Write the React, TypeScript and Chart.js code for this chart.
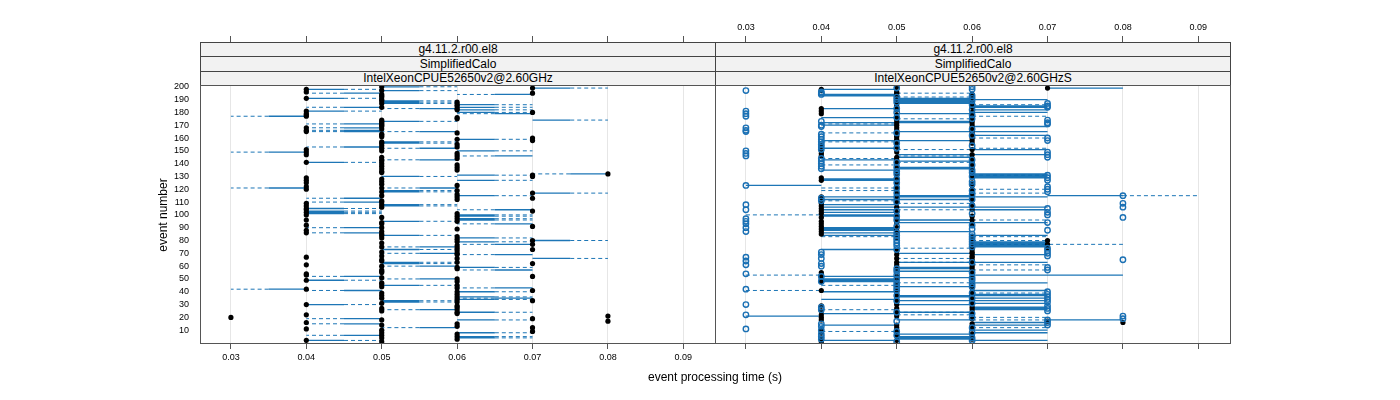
import React, { useEffect, useRef } from 'react';
import { Chart, registerables } from 'chart.js';
Chart.register(...registerables);

// ---------------- data ----------------
const X_TICKS = [0.03, 0.04, 0.05, 0.06, 0.07, 0.08, 0.09];
const Y_TICKS = [10, 20, 30, 40, 50, 60, 70, 80, 90, 100, 110, 120, 130, 140, 150, 160, 170, 180, 190, 200];
const STRIP_RELEASE = 'g4.11.2.r00.el8';
const STRIP_TEST = 'SimplifiedCalo';
const PANEL_CPUS = ['IntelXeonCPUE52650v2@2.60GHz', 'IntelXeonCPUE52650v2@2.60GHzS'];
const X_TITLE = 'event processing time (s)';
const Y_TITLE = 'event number';

// processing time per event (events 1..200), left panel
const LEFT_TIME = [
  0.05, 0.04, 0.06, 0.05, 0.06, 0.05, 0.06, 0.05, 0.07, 0.05,
  0.04, 0.07, 0.06, 0.05, 0.06, 0.04, 0.08, 0.05, 0.07, 0.03,
  0.08, 0.04, 0.06, 0.06, 0.05, 0.06, 0.05, 0.06, 0.06, 0.04,
  0.05, 0.06, 0.07, 0.06, 0.05, 0.06, 0.05, 0.06, 0.05, 0.06,
  0.07, 0.04, 0.06, 0.05, 0.06, 0.05, 0.05, 0.06, 0.04, 0.06,
  0.05, 0.07, 0.04, 0.04, 0.05, 0.05, 0.05, 0.06, 0.06, 0.05,
  0.04, 0.07, 0.06, 0.05, 0.05, 0.06, 0.04, 0.05, 0.06, 0.06,
  0.05, 0.06, 0.07, 0.06, 0.05, 0.06, 0.07, 0.05, 0.06, 0.07,
  0.06, 0.05, 0.06, 0.05, 0.05, 0.04, 0.05, 0.04, 0.06, 0.05,
  0.07, 0.04, 0.05, 0.05, 0.06, 0.04, 0.06, 0.05, 0.06, 0.04,
  0.06, 0.04, 0.07, 0.04, 0.04, 0.05, 0.04, 0.05, 0.04, 0.05,
  0.05, 0.06, 0.07, 0.06, 0.05, 0.06, 0.07, 0.05, 0.06, 0.04,
  0.05, 0.04, 0.06, 0.05, 0.04, 0.05, 0.04, 0.05, 0.04, 0.07,
  0.07, 0.08, 0.05, 0.05, 0.06, 0.05, 0.06, 0.05, 0.06, 0.05,
  0.04, 0.05, 0.05, 0.06, 0.05, 0.06, 0.04, 0.06, 0.04, 0.05,
  0.04, 0.05, 0.06, 0.05, 0.06, 0.05, 0.05, 0.07, 0.06, 0.07,
  0.05, 0.05, 0.05, 0.06, 0.04, 0.04, 0.05, 0.04, 0.05, 0.05,
  0.05, 0.05, 0.05, 0.05, 0.06, 0.06, 0.04, 0.04, 0.04, 0.07,
  0.04, 0.06, 0.06, 0.05, 0.06, 0.06, 0.05, 0.06, 0.05, 0.05,
  0.04, 0.05, 0.05, 0.05, 0.07, 0.04, 0.05, 0.04, 0.07, 0.05,
];

// right panel, filled black series
const RIGHT_BLACK = [
  0.04, 0.05, 0.06, 0.04, 0.06, 0.05, 0.06, 0.04, 0.05, 0.04,
  0.06, 0.05, 0.06, 0.05, 0.06, 0.08, 0.07, 0.04, 0.06, 0.04,
  0.05, 0.04, 0.06, 0.05, 0.04, 0.06, 0.05, 0.06, 0.04, 0.05,
  0.06, 0.05, 0.06, 0.05, 0.06, 0.05, 0.06, 0.06, 0.05, 0.06,
  0.04, 0.05, 0.06, 0.05, 0.06, 0.05, 0.06, 0.04, 0.05, 0.04,
  0.06, 0.05, 0.04, 0.06, 0.04, 0.06, 0.05, 0.06, 0.05, 0.06,
  0.05, 0.06, 0.05, 0.06, 0.06, 0.05, 0.06, 0.06, 0.05, 0.06,
  0.06, 0.05, 0.06, 0.07, 0.06, 0.06, 0.07, 0.06, 0.06, 0.07,
  0.06, 0.05, 0.06, 0.05, 0.04, 0.05, 0.04, 0.05, 0.04, 0.05,
  0.04, 0.06, 0.04, 0.05, 0.04, 0.06, 0.05, 0.04, 0.06, 0.05,
  0.04, 0.05, 0.04, 0.06, 0.04, 0.05, 0.04, 0.06, 0.04, 0.05,
  0.04, 0.06, 0.05, 0.04, 0.05, 0.06, 0.05, 0.06, 0.05, 0.06,
  0.05, 0.05, 0.06, 0.05, 0.06, 0.05, 0.04, 0.05, 0.04, 0.06,
  0.05, 0.06, 0.05, 0.06, 0.05, 0.06, 0.05, 0.06, 0.05, 0.06,
  0.05, 0.06, 0.05, 0.06, 0.05, 0.04, 0.06, 0.04, 0.05, 0.04,
  0.06, 0.04, 0.05, 0.04, 0.05, 0.06, 0.05, 0.06, 0.05, 0.06,
  0.05, 0.05, 0.06, 0.05, 0.06, 0.05, 0.06, 0.05, 0.06, 0.05,
  0.06, 0.05, 0.06, 0.05, 0.06, 0.05, 0.06, 0.05, 0.04, 0.06,
  0.04, 0.05, 0.04, 0.06, 0.05, 0.06, 0.05, 0.06, 0.05, 0.06,
  0.05, 0.06, 0.05, 0.06, 0.05, 0.05, 0.04, 0.04, 0.07, 0.05,
];

// right panel, open blue series
const RIGHT_BLUE = [
  0.05, 0.06, 0.04, 0.06, 0.04, 0.05, 0.04, 0.06, 0.05, 0.04,
  0.03, 0.06, 0.04, 0.07, 0.04, 0.07, 0.05, 0.07, 0.08, 0.06,
  0.08, 0.03, 0.06, 0.05, 0.07, 0.04, 0.07, 0.04, 0.07, 0.03,
  0.06, 0.07, 0.05, 0.07, 0.06, 0.07, 0.05, 0.07, 0.06, 0.07,
  0.05, 0.03, 0.05, 0.06, 0.05, 0.06, 0.05, 0.04, 0.06, 0.05,
  0.06, 0.04, 0.05, 0.03, 0.06, 0.05, 0.07, 0.05, 0.07, 0.04,
  0.03, 0.04, 0.06, 0.03, 0.08, 0.04, 0.03, 0.07, 0.04, 0.07,
  0.04, 0.07, 0.05, 0.07, 0.06, 0.05, 0.06, 0.05, 0.06, 0.05,
  0.06, 0.05, 0.06, 0.05, 0.06, 0.05, 0.03, 0.07, 0.06, 0.03,
  0.05, 0.06, 0.03, 0.07, 0.03, 0.05, 0.03, 0.08, 0.05, 0.07,
  0.06, 0.07, 0.05, 0.03, 0.07, 0.08, 0.06, 0.03, 0.08, 0.05,
  0.04, 0.06, 0.04, 0.05, 0.08, 0.06, 0.05, 0.07, 0.06, 0.07,
  0.05, 0.07, 0.03, 0.06, 0.05, 0.06, 0.07, 0.05, 0.07, 0.06,
  0.07, 0.05, 0.06, 0.05, 0.06, 0.04, 0.05, 0.04, 0.06, 0.04,
  0.05, 0.04, 0.06, 0.04, 0.07, 0.03, 0.07, 0.03, 0.07, 0.03,
  0.04, 0.05, 0.04, 0.06, 0.04, 0.05, 0.04, 0.07, 0.04, 0.07,
  0.04, 0.06, 0.04, 0.05, 0.03, 0.03, 0.06, 0.03, 0.04, 0.04,
  0.07, 0.07, 0.04, 0.07, 0.06, 0.05, 0.03, 0.06, 0.03, 0.05,
  0.03, 0.06, 0.05, 0.07, 0.07, 0.06, 0.07, 0.05, 0.06, 0.05,
  0.06, 0.05, 0.06, 0.04, 0.04, 0.04, 0.03, 0.06, 0.05, 0.06,
];

// left panel links: [event, time at solid end, time at dashed end]
const LEFT_LINKS = [
  [200, 0.05, 0.06], [199, 0.07, 0.08], [198, 0.04, 0.05], [197, 0.05, 0.06], [195, 0.05, 0.04],
  [194, 0.07, 0.06], [191, 0.04, 0.05], [189, 0.05, 0.06], [188, 0.05, 0.06], [187, 0.05, 0.06],
  [186, 0.06, 0.07], [184, 0.05, 0.04], [184, 0.06, 0.07], [183, 0.06, 0.05], [182, 0.06, 0.07],
  [181, 0.04, 0.05], [180, 0.06, 0.07], [179, 0.07, 0.06], [177, 0.04, 0.03], [174, 0.07, 0.08],
  [173, 0.05, 0.06], [171, 0.05, 0.04], [168, 0.05, 0.04], [166, 0.05, 0.04], [165, 0.05, 0.04],
  [165, 0.06, 0.05], [159, 0.06, 0.07], [157, 0.05, 0.06], [156, 0.05, 0.06], [153, 0.05, 0.04],
  [152, 0.06, 0.05], [150, 0.06, 0.07], [149, 0.04, 0.03], [146, 0.07, 0.06], [143, 0.06, 0.05],
  [141, 0.04, 0.05], [132, 0.08, 0.07], [131, 0.06, 0.07], [130, 0.05, 0.06], [127, 0.06, 0.07],
  [121, 0.04, 0.03], [121, 0.06, 0.05], [119, 0.05, 0.06], [118, 0.05, 0.06], [117, 0.07, 0.08],
  [115, 0.06, 0.07], [113, 0.05, 0.04], [110, 0.05, 0.04], [108, 0.05, 0.06], [107, 0.05, 0.06],
  [105, 0.04, 0.05], [104, 0.07, 0.06], [103, 0.04, 0.05], [102, 0.04, 0.05], [101, 0.04, 0.05],
  [100, 0.06, 0.07], [99, 0.06, 0.07], [97, 0.06, 0.07], [96, 0.06, 0.07], [95, 0.05, 0.06],
  [93, 0.07, 0.06], [90, 0.05, 0.04], [86, 0.05, 0.04], [84, 0.05, 0.06], [82, 0.06, 0.07],
  [80, 0.07, 0.08], [79, 0.06, 0.07], [77, 0.07, 0.06], [75, 0.06, 0.05], [73, 0.05, 0.06],
  [70, 0.06, 0.05], [69, 0.07, 0.06], [66, 0.07, 0.08], [63, 0.05, 0.06], [62, 0.05, 0.06],
  [60, 0.06, 0.05], [59, 0.06, 0.07], [57, 0.07, 0.06], [52, 0.05, 0.04], [50, 0.06, 0.05],
  [49, 0.04, 0.05], [45, 0.05, 0.06], [43, 0.07, 0.06], [42, 0.04, 0.03], [41, 0.05, 0.04],
  [40, 0.06, 0.07], [36, 0.06, 0.07], [35, 0.07, 0.06], [34, 0.06, 0.07], [33, 0.05, 0.06],
  [32, 0.05, 0.06], [30, 0.04, 0.05], [26, 0.06, 0.05], [24, 0.06, 0.07], [19, 0.05, 0.04],
  [18, 0.06, 0.07], [15, 0.05, 0.04], [12, 0.06, 0.05], [8, 0.06, 0.07], [6, 0.05, 0.04],
  [5, 0.06, 0.07], [4, 0.06, 0.07], [2, 0.04, 0.05],
];

// right panel solid links: [event, from, to]
const RIGHT_SOLID = [
  [199, 0.07, 0.08], [198, 0.04, 0.05], [194, 0.04, 0.05], [193, 0.04, 0.05], [191, 0.05, 0.06],
  [190, 0.05, 0.06], [189, 0.05, 0.06], [188, 0.05, 0.06], [187, 0.05, 0.06], [190, 0.06, 0.07],
  [185, 0.06, 0.07], [184, 0.06, 0.07], [183, 0.04, 0.05], [182, 0.06, 0.07], [180, 0.06, 0.07],
  [179, 0.05, 0.06], [176, 0.04, 0.05], [173, 0.05, 0.06], [172, 0.04, 0.05], [172, 0.05, 0.06],
  [170, 0.04, 0.05], [169, 0.06, 0.07], [165, 0.06, 0.07], [165, 0.05, 0.06], [162, 0.06, 0.07],
  [158, 0.04, 0.05], [158, 0.05, 0.06], [152, 0.04, 0.05], [151, 0.06, 0.07], [147, 0.05, 0.06],
  [147, 0.06, 0.07], [145, 0.05, 0.06], [143, 0.04, 0.05], [142, 0.05, 0.06], [137, 0.05, 0.06],
  [136, 0.05, 0.06], [135, 0.04, 0.05], [132, 0.06, 0.07], [131, 0.06, 0.07], [130, 0.06, 0.07],
  [129, 0.06, 0.07], [128, 0.04, 0.05], [127, 0.04, 0.05], [123, 0.03, 0.04], [115, 0.07, 0.08],
  [115, 0.05, 0.06], [114, 0.04, 0.05], [114, 0.05, 0.06], [114, 0.06, 0.07], [112, 0.04, 0.05],
  [112, 0.05, 0.06], [108, 0.04, 0.05], [106, 0.04, 0.05], [106, 0.05, 0.06], [106, 0.06, 0.07],
  [104, 0.04, 0.05], [104, 0.06, 0.07], [102, 0.04, 0.05], [100, 0.04, 0.05], [99, 0.04, 0.05],
  [96, 0.05, 0.06], [94, 0.05, 0.06], [94, 0.06, 0.07], [90, 0.04, 0.05], [89, 0.04, 0.05],
  [88, 0.04, 0.05], [87, 0.05, 0.06], [86, 0.04, 0.05], [84, 0.04, 0.05], [84, 0.06, 0.07],
  [79, 0.06, 0.07], [78, 0.06, 0.07], [77, 0.06, 0.07], [76, 0.06, 0.07], [75, 0.06, 0.07],
  [73, 0.04, 0.05], [70, 0.05, 0.06], [69, 0.06, 0.07], [63, 0.05, 0.06], [63, 0.06, 0.07],
  [59, 0.05, 0.06], [58, 0.05, 0.06], [56, 0.05, 0.06], [53, 0.06, 0.08], [52, 0.04, 0.05],
  [51, 0.05, 0.06], [50, 0.04, 0.05], [49, 0.04, 0.05], [48, 0.04, 0.05], [47, 0.06, 0.07],
  [44, 0.05, 0.06], [41, 0.06, 0.07], [40, 0.04, 0.05], [38, 0.06, 0.07], [37, 0.06, 0.07],
  [37, 0.05, 0.06], [36, 0.05, 0.06], [35, 0.06, 0.07], [34, 0.04, 0.05], [33, 0.06, 0.07],
  [33, 0.05, 0.06], [31, 0.06, 0.07], [30, 0.05, 0.06], [28, 0.06, 0.07], [27, 0.06, 0.07],
  [26, 0.06, 0.07], [24, 0.05, 0.06], [23, 0.04, 0.05], [21, 0.03, 0.04], [18, 0.07, 0.08],
  [18, 0.05, 0.06], [16, 0.06, 0.07], [14, 0.04, 0.05], [14, 0.06, 0.07], [10, 0.06, 0.07],
  [8, 0.06, 0.07], [7, 0.05, 0.06], [5, 0.05, 0.06], [4, 0.05, 0.06], [3, 0.05, 0.06],
  [2, 0.06, 0.07], [2, 0.04, 0.05],
];

// right panel dashed links: [event, from, to]
const RIGHT_DASHED = [
  [195, 0.05, 0.06], [192, 0.05, 0.06], [186, 0.06, 0.07], [177, 0.06, 0.07], [175, 0.05, 0.06],
  [171, 0.04, 0.05], [164, 0.04, 0.05], [160, 0.06, 0.07], [157, 0.04, 0.05], [152, 0.06, 0.07],
  [151, 0.05, 0.06], [146, 0.05, 0.06], [144, 0.04, 0.05], [141, 0.05, 0.06], [139, 0.04, 0.05],
  [131, 0.06, 0.07], [121, 0.04, 0.05], [120, 0.06, 0.07], [119, 0.04, 0.05], [117, 0.06, 0.07],
  [115, 0.08, 0.09], [111, 0.04, 0.05], [109, 0.05, 0.06], [104, 0.05, 0.06], [100, 0.03, 0.04],
  [96, 0.06, 0.07], [83, 0.06, 0.07], [83, 0.04, 0.05], [80, 0.06, 0.07], [77, 0.06, 0.08],
  [74, 0.05, 0.06], [66, 0.05, 0.06], [63, 0.05, 0.06], [61, 0.06, 0.07], [57, 0.06, 0.07],
  [53, 0.03, 0.04], [47, 0.05, 0.06], [45, 0.04, 0.05], [41, 0.03, 0.04], [39, 0.06, 0.07],
  [26, 0.04, 0.05], [24, 0.05, 0.06], [22, 0.05, 0.06], [20, 0.06, 0.07], [18, 0.06, 0.07],
  [12, 0.06, 0.07], [9, 0.04, 0.05],
];

// ---------------- layout ----------------
const X_MIN = 0.0259;
const X_MAX = 0.0942;
const PANEL_TOP = 85.5;
const PANEL_BOTTOM = 343;
const AREA_TOP = 42;
const Y_MIN = 0;
const Y_PANEL_MAX = 201;
const Y_MAX = Y_PANEL_MAX + (PANEL_TOP - AREA_TOP) * (Y_PANEL_MAX - Y_MIN) / (PANEL_BOTTOM - PANEL_TOP);

const LEFT_X0 = 200;
const MID_X = 715;
const RIGHT_X1 = 1230;

const LINE_COL = 'rgba(10,106,176,0.92)';
const BLUE = '#1a70b4';
const FONT = '"Liberation Sans", Arial, Helvetica, sans-serif';

type Seg = number[];
const toPath = (segs: Seg[]) =>
  segs.flatMap(([e, a, b]) => [{ x: a, y: e }, { x: b, y: e }, { x: b, y: null as any }]);
const toPoints = (times: number[]) => times.map((t, i) => ({ x: t, y: i + 1 }));

function lineDs(segs: Seg[], dashed: boolean) {
  return {
    data: toPath(segs),
    showLine: true,
    spanGaps: false,
    borderColor: LINE_COL,
    borderWidth: dashed ? 1 : 1.3,
    borderDash: dashed ? [4, 3] : [],
    pointRadius: 0,
    tension: 0,
    order: 3,
  };
}

function blackDs(times: number[]) {
  return {
    data: toPoints(times),
    showLine: false,
    pointRadius: 2.6,
    pointBackgroundColor: '#000',
    pointBorderWidth: 0,
    pointBorderColor: '#000',
    order: 2,
  };
}

function blueDs(times: number[]) {
  return {
    data: toPoints(times),
    showLine: false,
    pointRadius: 2.7,
    pointBackgroundColor: 'rgba(0,0,0,0)',
    pointBorderWidth: 1.4,
    pointBorderColor: BLUE,
    order: 1,
  };
}

function makeOptions(isLeft: boolean): any {
  const fmt = (v: any) => Number(v).toFixed(2);
  const setX = (s: any) => { s.ticks = X_TICKS.map((v) => ({ value: v })); };
  return {
    animation: false,
    responsive: false,
    maintainAspectRatio: false,
    events: [],
    layout: { padding: { left: 0, right: 1, top: 0, bottom: 0 }, autoPadding: false },
    plugins: { legend: { display: false }, tooltip: { enabled: false } },
    scales: {
      x: {
        type: 'linear', position: 'bottom', min: X_MIN, max: X_MAX,
        afterBuildTicks: setX,
        afterFit: (s: any) => { s.height = 400 - PANEL_BOTTOM; s.paddingLeft = 0; s.paddingRight = 0; },
        grid: { color: '#e6e6e6', lineWidth: 1, tickColor: '#555', tickLength: 6, drawOnChartArea: true },
        border: { display: false },
        ticks: { autoSkip: false, maxRotation: 0, padding: 3, color: '#000', font: { size: 9, family: FONT },
          callback: isLeft ? fmt : () => '' },
      },
      xt: {
        type: 'linear', position: 'top', min: X_MIN, max: X_MAX,
        afterBuildTicks: setX,
        afterFit: (s: any) => { s.height = AREA_TOP; s.paddingLeft = 0; s.paddingRight = 0; },
        grid: { drawOnChartArea: false, tickColor: '#555', tickLength: 6 },
        border: { display: false },
        ticks: { autoSkip: false, maxRotation: 0, padding: 3, color: '#000', font: { size: 9, family: FONT },
          callback: isLeft ? () => '' : fmt },
      },
      y: {
        type: 'linear', position: 'left', min: Y_MIN, max: Y_MAX, display: isLeft,
        afterBuildTicks: (s: any) => { s.ticks = Y_TICKS.map((v) => ({ value: v })); },
        afterFit: (s: any) => { s.width = isLeft ? LEFT_X0 : 0; s.paddingTop = 0; s.paddingBottom = 0; },
        grid: { drawOnChartArea: false, drawTicks: false },
        border: { display: false },
        ticks: { autoSkip: false, padding: 11, color: '#000', font: { size: 9, family: FONT } },
      },
    },
  };
}

export default function App() {
  const leftRef = useRef<HTMLCanvasElement>(null);
  const rightRef = useRef<HTMLCanvasElement>(null);

  useEffect(() => {
    Chart.defaults.font.family = FONT;
    const leftSolid = LEFT_LINKS.map(([e, s, d]) => [e, s, (s + d) / 2]);
    const leftDashed = LEFT_LINKS.map(([e, s, d]) => [e, (s + d) / 2, d]);
    const left = new Chart(leftRef.current as HTMLCanvasElement, {
      type: 'scatter',
      data: {
        datasets: [
          lineDs(leftDashed, true) as any,
          lineDs(leftSolid, false) as any,
          blackDs(LEFT_TIME) as any,
        ],
      },
      options: makeOptions(true),
    });
    const right = new Chart(rightRef.current as HTMLCanvasElement, {
      type: 'scatter',
      data: {
        datasets: [
          lineDs(RIGHT_DASHED, true) as any,
          lineDs(RIGHT_SOLID, false) as any,
          blackDs(RIGHT_BLACK) as any,
          blueDs(RIGHT_BLUE) as any,
        ],
      },
      options: makeOptions(false),
    });
    return () => { left.destroy(); right.destroy(); };
  }, []);

  const stripRows = (x0: number, x1: number, cpu: string) => {
    const rows = [
      { top: 42, h: 15, text: STRIP_RELEASE },
      { top: 56, h: 16, text: STRIP_TEST },
      { top: 71, h: 15, text: cpu },
    ];
    return rows.map((r, i) => (
      <div key={x0 + '-' + i} style={{
        position: 'absolute', left: x0, top: r.top, width: x1 - x0 + 1, height: r.h,
        boxSizing: 'border-box', border: '1px solid #444', background: '#f2f2f2',
        textAlign: 'center', fontSize: 12, lineHeight: (r.h - 2) + 'px', color: '#000',
        whiteSpace: 'nowrap', overflow: 'hidden',
      }}>{r.text}</div>
    ));
  };

  const frame = (x0: number, x1: number) => (
    <div style={{
      position: 'absolute', left: x0, top: 85, width: x1 - x0 + 1, height: PANEL_BOTTOM - 85 + 1,
      boxSizing: 'border-box', border: '1px solid #555', pointerEvents: 'none',
    }} />
  );

  return (
    <div style={{ position: 'absolute', left: 0, top: 0, width: 1400, height: 400, background: '#fff', fontFamily: FONT, overflow: 'hidden' }}>
      <canvas ref={leftRef} width={MID_X + 1} height={400}
        style={{ position: 'absolute', left: 0, top: 0, width: MID_X + 1, height: 400 }} />
      <canvas ref={rightRef} width={RIGHT_X1 - MID_X + 1} height={400}
        style={{ position: 'absolute', left: MID_X, top: 0, width: RIGHT_X1 - MID_X + 1, height: 400 }} />
      {stripRows(LEFT_X0, MID_X, PANEL_CPUS[0])}
      {stripRows(MID_X, RIGHT_X1, PANEL_CPUS[1])}
      {frame(LEFT_X0, MID_X)}
      {frame(MID_X, RIGHT_X1)}
      <div style={{ position: 'absolute', left: LEFT_X0, width: RIGHT_X1 - LEFT_X0, top: 370, textAlign: 'center', fontSize: 12, color: '#000' }}>{X_TITLE}</div>
      <div style={{ position: 'absolute', left: 163 - 60, top: 215 - 8, width: 120, height: 16, textAlign: 'center', fontSize: 12, lineHeight: '16px', color: '#000', transform: 'rotate(-90deg)' }}>{Y_TITLE}</div>
    </div>
  );
}
